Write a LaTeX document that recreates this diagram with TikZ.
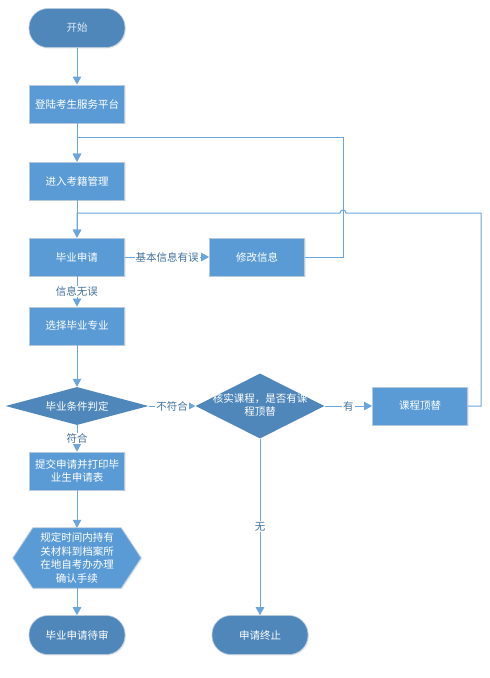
\documentclass[tikz,border=0pt]{standalone}
\usepackage{fontspec}
\setmainfont{Noto Sans CJK SC}
\usetikzlibrary{shapes.geometric,arrows.meta,shadows,backgrounds}

\definecolor{boxblue}{HTML}{5B9BD5}
\definecolor{darkblue}{HTML}{4F87BA}
\definecolor{edgegray}{HTML}{B7C9DD}
\definecolor{linkblue}{HTML}{6AA5DC}
\definecolor{labelblue}{HTML}{41719C}

\tikzset{
  base/.style={font=\fontsize{10.5}{13.5}\selectfont, text=white, align=center, inner sep=0pt},
  softshadow/.style={drop shadow={opacity=0.15, shadow xshift=1pt, shadow yshift=-1.2pt}},
  process/.style={base, rectangle, fill=boxblue, draw=edgegray, line width=0.8pt,
    minimum width=95pt, minimum height=38pt, softshadow},
  terminal/.style={base, rectangle, rounded corners=19pt, fill=darkblue, draw=edgegray,
    line width=0.6pt, minimum width=96pt, minimum height=39pt, softshadow},
  decision/.style={base, diamond, fill=darkblue, draw=none},
  flow/.style={draw=linkblue, line width=1pt, -{Triangle[width=8.5pt,length=8pt]}},
  tag/.style={font=\fontsize{10.5}{13}\selectfont, text=labelblue, fill=white, inner sep=1pt}
}

\begin{document}
\begin{tikzpicture}[x=1pt,y=-1pt]
  \useasboundingbox (0,0) rectangle (490,678);

  % main column
  \node[terminal, text=white!80!boxblue] (start) at (77,28) {开始};
  \node[process] (login) at (77,104) {登陆考生服务平台};
  \node[process] (enter) at (77,181) {进入考籍管理};
  \node[process] (apply) at (77,257) {毕业申请};
  \node[process] (modify) at (257,257) {修改信息};
  \node[process] (major) at (77,326) {选择毕业专业};
  \node[decision, shape aspect=3.76, minimum width=143pt, minimum height=38pt] (judge) at (77,406) {毕业条件判定};
  \node[decision, shape aspect=2, minimum width=129pt, minimum height=65pt,
    label={[base, yshift=1pt]center:核实课程，是否有课\\程顶替}] (check) at (260,406) {};
  \node[process] (replace) at (420,406) {课程顶替};
  \node[process] (submit) at (77,471) {提交申请并打印毕\\业生申请表};
  \node[base, minimum width=128pt, minimum height=60pt] (confirm) at (77,558)
    {规定时间内持有\\关材料到档案所\\在地自考办办理\\确认手续};
  \node[terminal] (pending) at (77,635) {毕业申请待审};
  \node[terminal] (stop) at (260,635) {申请终止};

  % hexagon behind its text
  \begin{scope}[on background layer]
    \filldraw[fill=boxblue, draw=edgegray, line width=0.8pt, softshadow]
      (confirm.west) -- ([xshift=20pt]confirm.north west) -- ([xshift=-20pt]confirm.north east)
      -- (confirm.east) -- ([xshift=-20pt]confirm.south east) -- ([xshift=20pt]confirm.south west) -- cycle;
  \end{scope}

  % connectors
  \draw[flow] (start) -- (login);
  \draw[flow] (login) -- (enter);
  \draw[flow] (enter) -- (apply);
  \draw[flow] (apply) -- (modify) node[tag, midway] {基本信息有误};
  \draw[flow] (modify.east) -| (343,137) -| (enter.north);
  \draw[flow] (apply) -- (major) node[tag, midway] {信息无误};
  \draw[flow] (major) -- (judge);
  \draw[flow] (judge.east) -- (check.west) node[tag, midway] {不符合};
  \draw[flow] (check.east) -- (replace.west) node[tag, midway] {有};
  \draw[flow] (replace.east) -| (481,213) -- (346,213) arc[start angle=0, end angle=180, radius=3pt]
    -| (apply.north);
  \draw[flow] (judge.south) -- (submit.north) node[tag, midway] {符合};
  \draw[flow] (submit) -- (confirm.north);
  \draw[flow] (confirm.south) -- (pending);
  \draw[flow] (check.south) -- (stop.north) node[tag, midway] {无};

\end{tikzpicture}
\end{document}
